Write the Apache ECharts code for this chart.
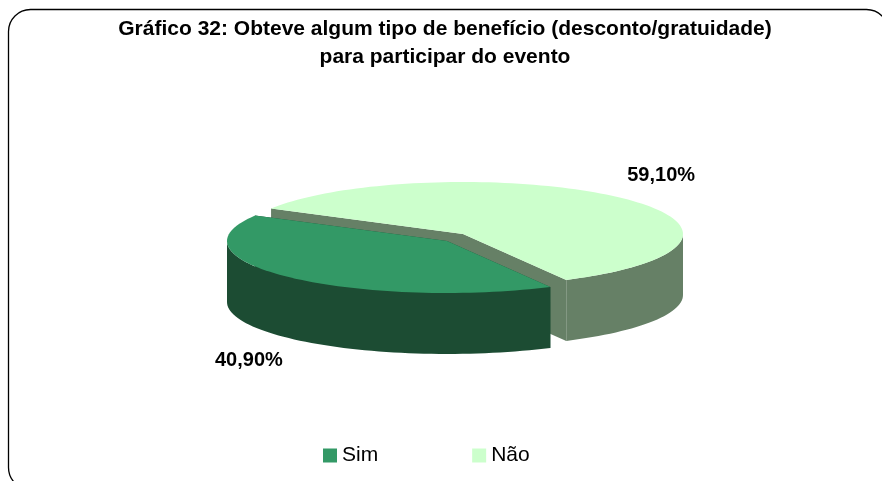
<!DOCTYPE html>
<html>
<head>
<meta charset="utf-8">
<script src="https://cdn.jsdelivr.net/npm/echarts@6/dist/echarts.min.js"></script>
<style>
  html, body { margin: 0; background: #fff; }
  #chart { width: 882px; height: 481px; }
</style>
</head>
<body>
<div id="chart"></div>
<script>
const categories = ["Sim", "Não"];
const values = [40.9, 59.1];
const titleLines = ["Gráfico 32: Obteve algum tipo de benefício (desconto/gratuidade)", "para participar do evento"];

const topColors = ["#339966", "#CCFFCC"];
const sideColors = ["#1C4C33", "#668066"];
const FONT = "'Liberation Sans', Arial, sans-serif";

// fake 3d pie: ellipse radii, thickness, first slice start (deg, clockwise from 3 o'clock)
const pie = { cx: 463, cy: 234, rx: 220, ry: 52, depth: 61, start: 62 };
const explode = [[-16, 7], [0, 0]];

const total = values.reduce((a, b) => a + b, 0);
const angles = [];
let acc = pie.start;
values.forEach(v => { const a = v / total * 360; angles.push([acc, acc + a]); acc += a; });
const mids = angles.map(a => (a[0] + a[1]) / 2);

const pt = (c, t, dy) => {
  const r = t * Math.PI / 180;
  return [c[0] + pie.rx * Math.cos(r), c[1] + pie.ry * Math.sin(r) + (dy || 0)];
};
const arc = (c, a0, a1, dy) => {
  const n = Math.max(2, Math.ceil((a1 - a0) / 2)), pts = [];
  for (let i = 0; i <= n; i++) pts.push(pt(c, a0 + (a1 - a0) * i / n, dy));
  return pts;
};
const fmt = v => v.toFixed(2).replace(".", ",") + "%";

function renderSlice(i) {
  return (params, api) => {
    const c = [pie.cx + explode[i][0], pie.cy + explode[i][1]];
    const [a0, a1] = angles[i];
    const d = pie.depth;
    const kids = [];
    // cut faces
    [a0, a1].forEach(a => {
      const p = pt(c, a);
      kids.push({ type: "polygon", shape: { points: [c, p, [p[0], p[1] + d], [c[0], c[1] + d]] },
        style: { fill: sideColors[i] } });
    });
    // rim, front half only
    for (let k = 0; k < 2; k++) {
      const lo = Math.max(a0, k * 360), hi = Math.min(a1, k * 360 + 180);
      if (hi > lo) {
        kids.push({ type: "polygon", shape: { points: arc(c, lo, hi).concat(arc(c, lo, hi, d).reverse()) },
          style: { fill: sideColors[i] } });
      }
    }
    kids.push({ type: "polygon", shape: { points: [c].concat(arc(c, a0, a1)) }, style: { fill: topColors[i] } });
    // outside label
    const m = mids[i] * Math.PI / 180, s = Math.sin(m);
    kids.push({ type: "text", z2: 10, style: {
      x: c[0] + pie.rx * 1.26 * Math.cos(m),
      y: c[1] + pie.ry * 1.61 * s + (s > 0 ? d : 0),
      text: fmt(api.value(0)), align: "center", verticalAlign: "middle",
      font: "bold 20px " + FONT, fill: "#000" } });
    return { type: "group", children: kids };
  };
}

// slices nearer the viewer go on top
const order = mids.map((m, i) => [Math.sin(m * Math.PI / 180), i]).sort((a, b) => a[0] - b[0]).map(x => x[1]);

const chart = echarts.init(document.getElementById("chart"));
chart.setOption({
  animation: false,
  title: {
    text: titleLines.join("\n"), left: 445, top: 15, textAlign: "center", padding: 0,
    textStyle: { fontFamily: FONT, fontSize: 21, fontWeight: "bold", color: "#000", lineHeight: 28 }
  },
  legend: {
    data: categories, left: 323, top: 445, padding: 0, icon: "rect", itemWidth: 14, itemHeight: 14, itemGap: 94,
    selectedMode: false,
    textStyle: { fontFamily: FONT, fontSize: 21, color: "#000" }
  },
  graphic: [{
    type: "rect", shape: { x: 8.5, y: 9.5, width: 880, height: 480, r: 22 },
    style: { fill: "none", stroke: "#000", lineWidth: 1.3 }, silent: true
  }],
  series: categories.map((name, i) => ({
    type: "custom", name, coordinateSystem: "none",
    z: 2 + order.indexOf(i),
    itemStyle: { color: topColors[i] },
    data: [[values[i]]],
    renderItem: renderSlice(i)
  }))
});
</script>
</body>
</html>
